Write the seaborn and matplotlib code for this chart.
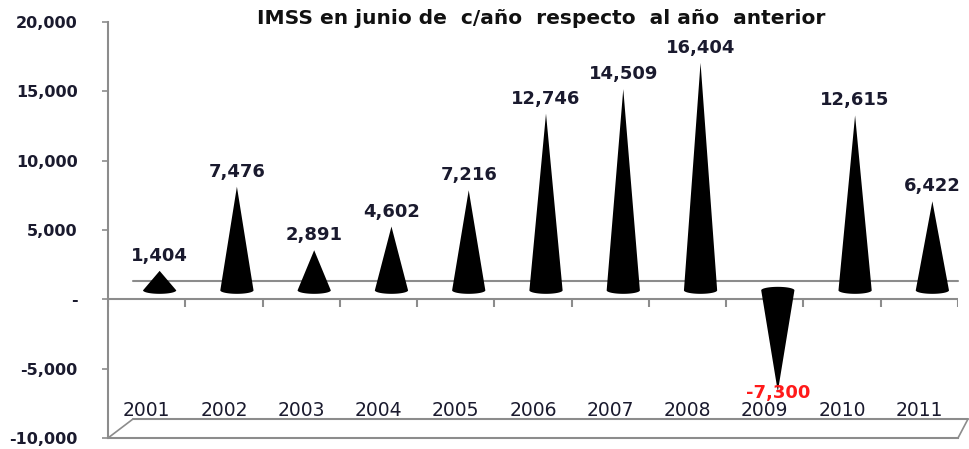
import numpy as np
import pandas as pd
import matplotlib
matplotlib.use("Agg")
import matplotlib.pyplot as plt
import matplotlib.transforms as mtransforms
from matplotlib.ticker import FuncFormatter
import seaborn as sns

# ---- data ----
years = ["2001", "2002", "2003", "2004", "2005", "2006", "2007", "2008", "2009", "2010", "2011"]
values = [1404, 7476, 2891, 4602, 7216, 12746, 14509, 16404, -7300, 12615, 6422]
title = "IMSS en junio de  c/año  respecto  al año  anterior"
y_ticks = [-10000, -5000, 0, 5000, 10000, 15000, 20000]

df = pd.DataFrame({"year": years, "value": values})

sns.set_style("white")
plt.rcParams["font.family"] = ["DejaVu Sans"]

W, H, DPI = 970, 449, 100
fig = plt.figure(figsize=(W / DPI, H / DPI), dpi=DPI)
L, R, T, B = 108, 958, 22, 438
ax = fig.add_axes([L / W, (H - B) / H, (R - L) / W, (B - T) / H])

sns.barplot(data=df, x="year", y="value", color="black", width=0.43, ax=ax)
ax.set_xlim(-0.5, len(years) - 0.5)
ax.set_ylim(-10000, 20000)

txt_col = "#1a1a2e"
grid_col = "#8c8c8c"

# 3D depth offset for cones (pixels -> inches)
cone_shift = mtransforms.ScaledTranslation(13 / DPI, 9 / DPI, fig.dpi_scale_trans)
cone_tr = ax.transData + cone_shift
units_per_px = 30000 / (B - T)
ell = 3.5 * units_per_px

for p in list(ax.patches):
    x0, w = p.get_x(), p.get_width()
    y0, h = p.get_y(), p.get_height()
    p.set_visible(False)
    cx = x0 + w / 2
    hw = w / 2
    base = y0
    apex = y0 + h
    th = np.linspace(0, np.pi, 40)
    if h >= 0:
        xs = np.concatenate([[cx], cx - hw * np.cos(th)])
        ys = np.concatenate([[apex], base - ell * np.sin(th)])
    else:
        xs = np.concatenate([[cx], cx + hw * np.cos(th)])
        ys = np.concatenate([[apex], base + ell * np.sin(th)])
    ax.fill(xs, ys, color="black", transform=cone_tr, zorder=4, lw=0)
    # value label
    lab = f"{h:,.0f}"
    if h >= 0:
        off = mtransforms.ScaledTranslation(0, 15 / DPI, fig.dpi_scale_trans)
        ax.text(cx, apex, lab, transform=cone_tr + off, ha="center", va="center",
                fontsize=13, fontweight="bold", color=txt_col, zorder=6)
    else:
        off = mtransforms.ScaledTranslation(0, -1 / DPI, fig.dpi_scale_trans)
        ax.text(cx, apex, lab, transform=cone_tr + off, ha="center", va="center",
                fontsize=13, fontweight="bold", color="#ff1a1a", zorder=6)

# axes styling
for s in ["top", "right"]:
    ax.spines[s].set_visible(False)
ax.spines["left"].set_color(grid_col)
ax.spines["left"].set_linewidth(1.5)
ax.spines["bottom"].set_color(grid_col)
ax.spines["bottom"].set_linewidth(1.5)

ax.set_yticks(y_ticks)
ax.yaxis.set_major_formatter(FuncFormatter(lambda v, _: "-" if v == 0 else f"{v:,.0f}"))
ax.tick_params(axis="y", left=True, length=4, width=1.2, color=grid_col, pad=18,
               labelsize=11.5, labelcolor=txt_col)
for t in ax.get_yticklabels():
    t.set_fontweight("bold")
ax.set_xticks([])
ax.set_xlabel("")
ax.set_ylabel("")

# front zero line with category ticks
ax.axhline(0, color=grid_col, lw=1.5, zorder=2)
bounds = np.arange(-0.5, len(years), 1.0)
ax.vlines(bounds, -8 * units_per_px, 0, color=grid_col, lw=1.5, zorder=2)

# back-wall zero gridline
back = mtransforms.blended_transform_factory(ax.transAxes, ax.transData) + \
    mtransforms.ScaledTranslation(0, 18 / DPI, fig.dpi_scale_trans)
ax.plot([25 / (R - L), 1.0], [0, 0], color=grid_col, lw=1.5, transform=back,
        clip_on=False, zorder=1)

# floor
fy = (B - 419) / (B - T)
fx0 = 25 / (R - L)
fx1 = (968 - L) / (R - L)
ax.plot([fx0, fx1], [fy, fy], color=grid_col, lw=1.5, transform=ax.transAxes, clip_on=False)
ax.plot([0, fx0], [0, fy], color=grid_col, lw=1.2, transform=ax.transAxes, clip_on=False)
ax.plot([1.0, fx1], [0, fy], color=grid_col, lw=1.2, transform=ax.transAxes, clip_on=False)

# year labels on the floor
ylab = mtransforms.blended_transform_factory(ax.transData, ax.transAxes)
for i, yr in enumerate(years):
    ax.text(i, (B - 410) / (B - T), yr, transform=ylab, ha="center", va="center",
            fontsize=13.5, color=txt_col, zorder=5)

fig.text(541 / W, 1 - 18 / H, title, ha="center", va="center", fontsize=14.5,
         fontweight="bold", color="#111111")

fig.savefig("out.png", dpi=DPI, facecolor="white")
